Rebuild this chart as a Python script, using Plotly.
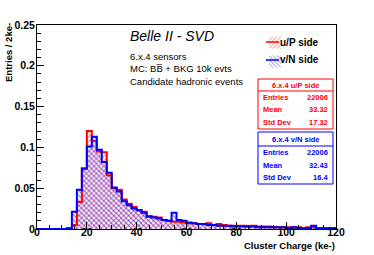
import plotly.graph_objects as go

# ---- data ----
bin_edges = list(range(0, 122, 2))  # 0..120, 2 ke- bins
up_values = [0, 0, 0, 0, 0, 0, 0.001, 0.005, 0.033, 0.074,
             0.120, 0.108, 0.095, 0.094, 0.066, 0.050, 0.048, 0.036, 0.031, 0.027,
             0.023, 0.021, 0.016, 0.015, 0.014, 0.011, 0.010, 0.009, 0.009, 0.008,
             0.007, 0.007, 0.006, 0.006, 0.007, 0.005, 0.006, 0.005, 0.004, 0.004,
             0.004, 0.004, 0.003, 0.004, 0.003, 0.003, 0.003, 0.002, 0.002, 0.002,
             0.002, 0.002, 0.002, 0.001, 0.002, 0.002, 0.001, 0.001, 0.001, 0.001]
vn_values = [0, 0, 0, 0, 0, 0, 0.001, 0.021, 0.048, 0.074,
             0.101, 0.113, 0.097, 0.082, 0.069, 0.051, 0.046, 0.034, 0.029, 0.025,
             0.023, 0.020, 0.015, 0.014, 0.013, 0.011, 0.010, 0.020, 0.011, 0.010,
             0.008, 0.007, 0.006, 0.006, 0.005, 0.005, 0.004, 0.004, 0.004, 0.003,
             0.003, 0.003, 0.003, 0.003, 0.002, 0.002, 0.002, 0.002, 0.002, 0.002,
             0.001, 0.002, 0.001, 0.001, 0.001, 0.004, 0.001, 0.001, 0.001, 0.001]
series_names = ["u/P side", "v/N side"]
stat_labels = ["Entries", "Mean", "Std Dev"]
up_stats = ["22006", "33.32", "17.32"]
vn_stats = ["22006", "32.43", "16.4"]
x_ticks = [0, 20, 40, 60, 80, 100, 120]
y_ticks = [0, 0.05, 0.1, 0.15, 0.2, 0.25]
y_tick_text = ["0", "0.05", "0.1", "0.15", "0.2", "0.25"]

RED = "#ff0000"
BLUE = "#0000ff"
FONT = "Liberation Sans, Arial, sans-serif"

# plot area in pixels
L, R, T, B = 37, 336, 25, 229
W, H = 374, 255


def px(x):
    return (x - L) / (R - L)


def py(y):
    return (B - y) / (B - T)


centers = [(bin_edges[i] + bin_edges[i + 1]) / 2 for i in range(len(up_values))]


def step(values):
    xs = [bin_edges[0]] + bin_edges[:len(values)] + [bin_edges[-1], bin_edges[-1]]
    ys = [0] + list(values) + [values[-1], 0]
    return xs, ys


fig = go.Figure()

# legend shows only the patterned symbol; the entry labels are drawn as text next to it
for vals, col, shp, name in [(up_values, RED, "/", series_names[0]),
                             (vn_values, BLUE, "\\", series_names[1])]:
    fig.add_trace(go.Bar(
        x=centers, y=vals, width=2, name=" ", hovertext=name,
        marker=dict(color="rgba(0,0,0,0)", line=dict(width=0, color=col),
                    pattern=dict(shape=shp, fgcolor=col, bgcolor="rgba(0,0,0,0)",
                                 size=3.5, solidity=0.35, fillmode="overlay")),
        showlegend=True,
    ))

for vals, col in [(up_values, RED), (vn_values, BLUE)]:
    xs, ys = step(vals)
    fig.add_trace(go.Scatter(x=xs, y=ys, mode="lines", line=dict(color=col, width=2, shape="hv"),
                             showlegend=False, hoverinfo="skip"))

axis_common = dict(showgrid=False, zeroline=False, showline=True, linecolor="black", linewidth=1,
                   mirror=True, ticks="inside", tickcolor="black", ticklen=7, tickwidth=1,
                   tickfont=dict(family=FONT, size=10.5, color="black", weight="bold"))

fig.update_layout(
    width=W, height=H,
    margin=dict(l=L, r=W - R, t=T, b=H - B),
    paper_bgcolor="white", plot_bgcolor="white",
    barmode="overlay", bargap=0,
    xaxis=dict(range=[0, 120], tickvals=x_ticks, ticktext=[str(v) for v in x_ticks],
               minor=dict(ticks="inside", dtick=5, ticklen=4, tickcolor="black"),
               ticklabelstandoff=-7,
               **axis_common),
    yaxis=dict(range=[0, 0.25], tickvals=y_ticks, ticktext=y_tick_text,
               minor=dict(ticks="inside", dtick=0.01, ticklen=4, tickcolor="black"),
               ticklabelstandoff=-1,
               **axis_common),
    legend=dict(x=px(255), y=py(28), xanchor="left", yanchor="top",
                bgcolor="rgba(0,0,0,0)", font=dict(family=FONT, size=8, color="black"),
                itemwidth=30, tracegroupgap=0),
    showlegend=True,
)

ann = []


def text(x, y, s, size, color="black", xanchor="left", bold=False, italic=False, angle=0):
    ann.append(dict(x=px(x), y=py(y), xref="paper", yref="paper", text=s, showarrow=False,
                    xanchor=xanchor, yanchor="middle", textangle=angle, borderpad=0,
                    font=dict(family=FONT, size=size, color=color,
                              weight="bold" if bold else "normal",
                              style="italic" if italic else "normal")))


text(129, 36, "Belle II - SVD", 14, italic=True)
text(129, 56, "6.x.4 sensors", 9.5)
text(129, 68.5, "MC: BB\u0305 + BKG 10k evts", 9.5)
text(129, 81, "Candidate hadronic events", 9.5)

text(9, 53, "Entries / 2ke-", 9.5, xanchor="center", bold=True, angle=-90)
text(336, 245.5, "Cluster Charge (ke-)", 9.5, xanchor="right", bold=True)

# legend labels
text(279, 42, series_names[0], 10, bold=True)
text(279, 60, series_names[1], 10, bold=True)

shapes = []
# legend line markers through the symbols
for yy, col in [(42, RED), (60, BLUE)]:
    shapes.append(dict(type="line", xref="paper", yref="paper", x0=px(266), x1=px(279),
                       y0=py(yy), y1=py(yy), line=dict(color=col, width=1.5)))

for (top, sep, bot, col, title, vals) in [(79, 91, 129, RED, "6.x.4 u/P side", up_stats),
                                          (132, 146, 184, BLUE, "6.x.4 v/N side", vn_stats)]:
    shapes.append(dict(type="rect", xref="paper", yref="paper", x0=px(258), x1=px(333),
                       y0=py(bot), y1=py(top), line=dict(color=col, width=1), fillcolor="white"))
    shapes.append(dict(type="line", xref="paper", yref="paper", x0=px(258), x1=px(333),
                       y0=py(sep), y1=py(sep), line=dict(color=col, width=1)))
    text(295.5, (top + sep) / 2, title, 7.5, color=col, xanchor="center", bold=True)
    row_h = (bot - sep) / 3
    for i, (lab, v) in enumerate(zip(stat_labels, vals)):
        yy = sep + row_h * (i + 0.5)
        text(262, yy, lab, 7.5, color=col, bold=True)
        text(329, yy, v, 7.5, color=col, xanchor="right", bold=True)

fig.update_layout(annotations=ann, shapes=shapes)

fig.write_html("out.html", post_script="document.body.style.margin='0';",
               config={"displayModeBar": False})
